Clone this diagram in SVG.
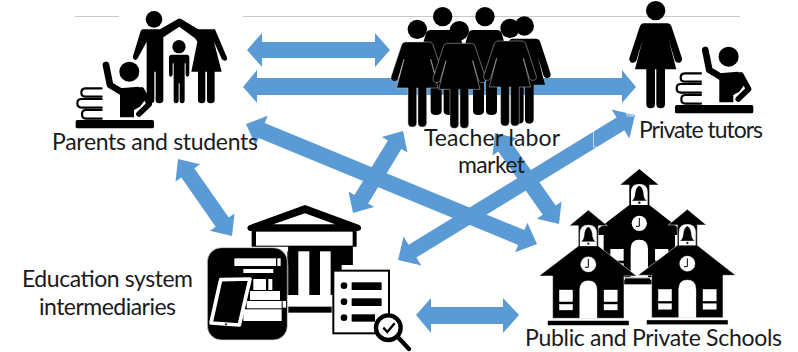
<svg xmlns="http://www.w3.org/2000/svg" xmlns:xlink="http://www.w3.org/1999/xlink" width="798" height="352" viewBox="0 0 798 352">
<style>
.a{fill:#5B9BD5}
.t{font-family:"Lato","Liberation Sans",sans-serif;font-size:23px;font-weight:400;fill:#1a1a1a}
.k{fill:#000}
.w{fill:#fff}
.r{fill:none;stroke:#000;stroke-linecap:round;stroke-linejoin:round}
</style>
<defs>
<g id="woman">
<circle r="29" cy="0" fill="#000" stroke="none"/>
<path fill="#000" d="M-36 38H36Q44 38 47 46L78 140Q82 152 72 156Q62 158 58 150L40 90L62 176H28V280Q28 293 15 293Q2 293 2 280V176H-2V280Q-2 293-15 293Q-28 293-28 280V176H-62L-40 90L-58 150Q-62 158-72 156Q-82 152-78 140L-47 46Q-44 38-36 38Z"/>
</g>
<g id="man">
<circle r="29" fill="#000"/>
<path fill="#000" d="M-36 40H36Q46 40 50 50L72 125Q75 138 65 140Q57 142 54 134L36 85V282Q36 295 20 295Q3 295 3 282V175H-3V282Q-3 295-20 295Q-36 295-36 282V85L-54 134Q-57 142-65 140Q-75 138-72 125L-50 50Q-46 40-36 40Z"/>
</g>
<g id="student">
<circle cx="208" cy="215" r="30" class="k"/>
<path class="r" stroke-width="20" d="M138 195L150 255L195 282"/>
<path class="k" d="M180 265L235 260Q255 265 262 290L240 320L222 330V352H180Z"/>
<path class="r" stroke-width="17" d="M245 270L268 312L237 342"/>
<rect x="47" y="360" width="235" height="25" rx="5" class="k"/>
<path class="r" stroke-width="6.5" d="M125 265H78Q64 265 64 278Q64 290 78 290H125"/>
<path class="r" stroke-width="6.5" d="M125 297H65Q52 297 52 310Q52 323 65 323H125"/>
<path class="r" stroke-width="6.5" d="M125 330H78Q66 330 66 343Q66 356 78 356H125"/>
</g>
<g id="school">
<path stroke-width="1.5" fill="#000" d="M0 0L57 47H30V108L145 198H107V325H-107V198H-148L-30 108V47H-57Z"/>
<path class="w" d="M-25 108V70Q-25 45 0 45Q25 45 25 70V108Z"/>
<path class="k" d="M0 50Q-12 55-13 80Q-15 90-22 95H22Q15 90 13 80Q12 55 0 50Z"/>
<circle cy="101" r="3.5" class="k"/>
<circle cy="163" r="23" class="w"/>
<path d="M0 147V172H-10" fill="none" stroke="#000" stroke-width="3"/>
<path class="w" d="M-26 325V240Q-26 212 0 212Q26 212 26 240V325Z"/>
<rect x="-87" y="240" width="40" height="35" class="w"/>
<rect x="-87" y="283" width="40" height="17" class="w"/>
<rect x="47" y="240" width="40" height="35" class="w"/>
<rect x="47" y="283" width="40" height="17" class="w"/>
<rect x="-122" y="332" width="244" height="14" class="k"/>
</g>
</defs>
<rect width="798" height="352" fill="#fff"/>
<g id="rules" stroke="#c9c9c9" stroke-width="1.2">
<path d="M75 16.5H119M243 16.5H740"/>
</g>
<g id="connectors">
<polygon class="a" points="247,50 262,33 262,42 375,42 375,33 390,50 375,67 375,58 262,58 262,67"/>
<polygon class="a" points="243,87 257,70 257,78 622,78 622,70 636,87 622,103 622,95 257,95 257,103"/>
<polygon class="a" points="246,124 267.8,115.7 264.75,123.1 524.35,230.1 527.4,222.7 537,244 515.2,252.3 518.25,244.9 258.65,137.9 255.6,145.3"/>
<polygon class="a" points="403,131 407.5,152.5 401.5,148.9 368.1,203.5 374.1,207.1 353,213 348.5,191.5 354.5,195.1 387.9,140.5 381.9,136.9"/>
<polygon class="a" points="635,115 629.4,138.4 624.4,130.3 416.4,257.5 421.4,265.6 398,260 403.6,236.6 408.6,244.7 616.6,117.5 611.6,109.4"/>
<polygon class="a" points="495,133 517.1,138.3 511.3,142.3 555.7,205.5 561.5,201.5 559,224 536.9,218.7 542.7,214.7 498.3,151.5 492.5,155.5"/>
<polygon class="a" points="178,159 200.1,164.3 194.3,168.3 228.7,217.5 234.5,213.5 232,236 209.9,230.7 215.7,226.7 181.3,177.5 175.5,181.5"/>
<polygon class="a" points="416,315 431,298 431,307 503,307 503,298 519,315 503,333 503,324 431,324 431,333"/>
<path d="M593.5 131V147L597 147M626 113L634 116M627 113V116H633" fill="none" stroke="#fff" stroke-width="0.8" opacity=".8"/>
</g>
<g id="parents-and-students">
<g transform="translate(60 0) scale(.3333)">
<circle cx="282" cy="58" r="25" class="k"/>
<path class="k" d="M248 88H300L355 56L362 56L415 88H465L500 170Q505 180 495 182Q487 182 483 172L462 125L485 215H464V300Q464 310 452 310Q441 310 441 300V215H436V300Q436 310 425 310Q414 310 414 300V215H394L412 125L405 115L358 80L310 112V300Q310 310 298 310Q287 310 287 300V215H283V300Q283 310 271 310Q260 310 260 300V125L233 175Q228 183 222 178Q216 173 220 165L240 100Q243 88 248 88Z"/>
<circle cx="357" cy="140" r="20" class="k"/>
<path class="k" d="M335 164H380Q388 164 388 172V222Q388 230 382 230Q377 230 377 222V190H374V300Q374 310 366 310Q359 310 359 300V250H356V300Q356 310 348 310Q341 310 341 300V190H338V222Q338 230 332 230Q327 230 327 222V172Q327 164 335 164Z"/>
<use href="#student" xlink:href="#student"/>
</g>
<text class="t" x="52" y="150" textLength="206" lengthAdjust="spacing">Parents and students</text>
</g>
<g id="teacher-labor-market">
<g transform="translate(370 0) scale(.3333)">
<use href="#man" xlink:href="#man" transform="translate(218 50)"/>
<use href="#man" xlink:href="#man" transform="translate(345 50)"/>
<use href="#woman" xlink:href="#woman" transform="translate(463 78)"/>
<use href="#woman" xlink:href="#woman" transform="translate(142 88)" stroke="#ccc" stroke-width="1.5"/>
<use href="#woman" xlink:href="#woman" transform="translate(268 92)" stroke="#ccc" stroke-width="1.5"/>
<use href="#woman" xlink:href="#woman" transform="translate(420 85)" stroke="#ccc" stroke-width="1.5"/>
</g>
<text class="t" x="424" y="146" textLength="136" lengthAdjust="spacing">Teacher labor</text>
<text class="t" x="458" y="173" textLength="67" lengthAdjust="spacing">market</text>
</g>
<g id="private-tutors">
<g transform="translate(590 0) scale(.3333)">
<use href="#woman" xlink:href="#woman" transform="translate(197 32)"/>
</g>
<g transform="translate(659.3 -15) scale(.3333)">
<use href="#student" xlink:href="#student"/>
</g>
<text class="t" x="639" y="138" textLength="124" lengthAdjust="spacing">Private tutors</text>
</g>
<g id="education-system-intermediaries">
<g transform="translate(200 195) scale(.3333)">
<path class="k" d="M315 30L478 90Q486 96 482 104Q478 108 470 108V155H458V210H265V155H155V108H152Q142 106 142 98Q143 92 150 90Z"/>
<path class="w" d="M220 88L315 55L405 88Z"/>
<rect x="168" y="110" width="290" height="42" class="w"/>
<path class="k" d="M265 155H458V210H425V300H265Z"/>
<rect x="295" y="169" width="33" height="131" class="w"/>
<rect x="360" y="169" width="32" height="131" class="w"/>
<rect x="262" y="169" width="3" height="131" class="k"/>
<rect x="265" y="318" width="135" height="17" class="w"/>
<rect x="265" y="335" width="130" height="18" class="k"/>
<rect x="22" y="158" width="240" height="277" rx="42" class="k" stroke="#ddd" stroke-width="2"/>
<rect x="103" y="190" width="125" height="23" class="w"/>
<rect x="232" y="190" width="10" height="23" class="w"/>
<rect x="130" y="222" width="90" height="12" class="w"/>
<rect x="160" y="252" width="38" height="33" class="w"/>
<rect x="205" y="252" width="12" height="33" class="w"/>
<rect x="150" y="288" width="90" height="27" class="w"/>
<rect x="140" y="318" width="105" height="22" class="w"/>
<rect x="248" y="318" width="10" height="20" class="w"/>
<rect x="130" y="343" width="115" height="35" class="w"/>
<path d="M62 254L150 252L118 390L33 384Z" fill="#000" stroke="#fff" stroke-width="11" stroke-linejoin="round"/>
<circle cx="78" cy="388" r="3" class="k"/>
<rect x="400" y="227" width="167" height="188" fill="#fff" stroke="#000" stroke-width="6"/>
<circle cx="432" cy="272" r="10" class="k"/>
<circle cx="432" cy="320" r="10" class="k"/>
<circle cx="432" cy="368" r="10" class="k"/>
<rect x="455" y="262" width="90" height="23" class="k"/>
<rect x="455" y="310" width="90" height="23" class="k"/>
<rect x="455" y="358" width="70" height="22" class="k"/>
<circle cx="565" cy="398" r="37" fill="#fff" stroke="#000" stroke-width="13"/>
<path class="r" stroke-width="13" d="M597 430L627 462"/>
<path d="M550 398L562 411L584 385" fill="none" stroke="#000" stroke-width="7"/>
</g>
<text class="t" x="22" y="287" textLength="171" lengthAdjust="spacing">Education system</text>
<text class="t" x="39" y="315" textLength="137" lengthAdjust="spacing">intermediaries</text>
</g>
<g id="public-and-private-schools">
<g transform="translate(530 160) scale(.3333)">
<use href="#school" xlink:href="#school" transform="translate(328 27)"/>
<rect x="285" y="355" width="75" height="13" class="k"/>
<use href="#school" xlink:href="#school" transform="translate(175 150)" stroke="#fff"/>
<use href="#school" xlink:href="#school" transform="translate(472 148)" stroke="#fff"/>
</g>
<text class="t" x="525" y="346" textLength="257" lengthAdjust="spacing">Public and Private Schools</text>
</g>
</svg>
